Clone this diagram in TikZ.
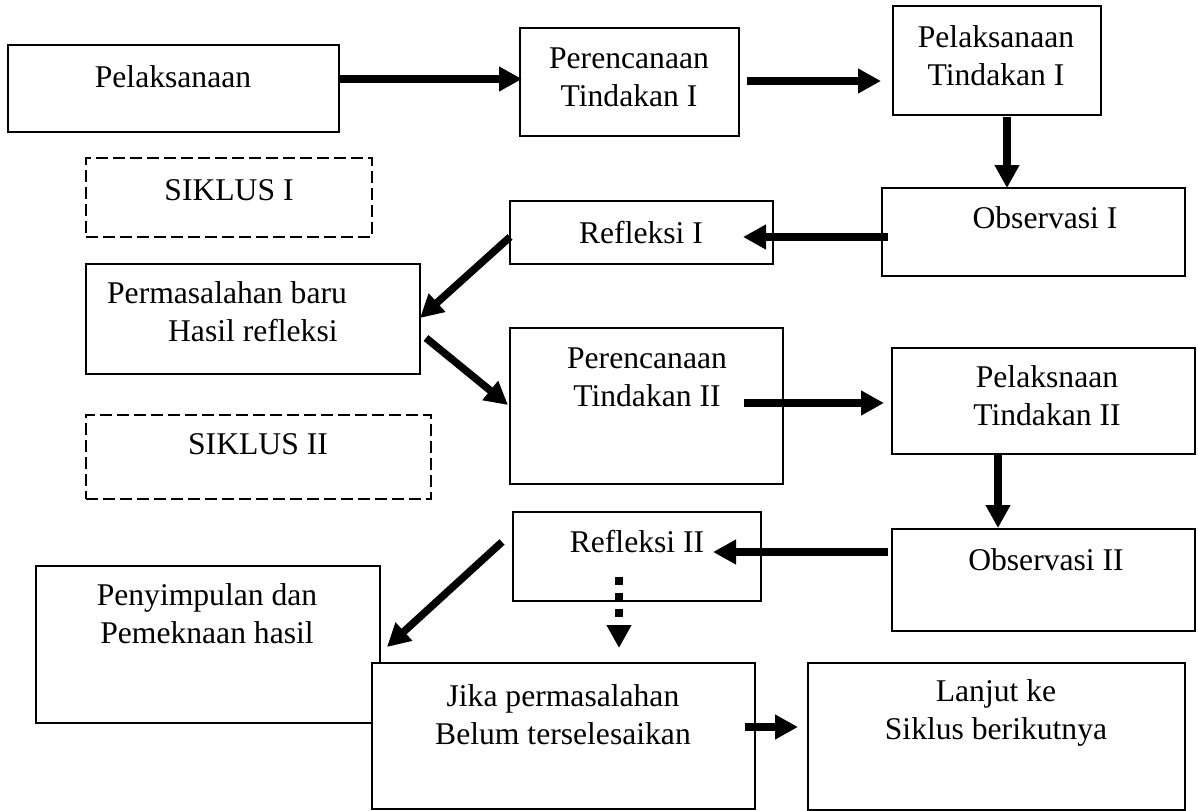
\documentclass[tikz,border=0pt]{standalone}
\usepackage{fontspec}
\setmainfont{Liberation Serif}
\usetikzlibrary{arrows.meta,fit}

\tikzset{
  box/.style={draw, line width=0.04cm, inner sep=0pt},
  dbox/.style={box, dash pattern=on 0.24cm off 0.1cm},
  txt/.style={inner sep=0pt, align=center, font=\fontsize{18}{21.5}\selectfont},
  arr/.style={line width=0.15cm, -{Triangle[length=0.46cm,width=0.47cm]}},
  darr/.style={arr, dash pattern=on 0.16cm off 0.16cm},
}

\begin{document}
\begin{tikzpicture}[x=0.02cm, y=-0.02cm]
\useasboundingbox (0,0) rectangle (1198,811);

%------------------ SIKLUS I ------------------%
\node[box, fit={(8,45) (339,132)}] (pelBox) {};
\node[txt] (pel) at (173,77) {Pelaksanaan};

\node[box, fit={(520,28) (739,136)}] (renIBox) {};
\node[txt] (renI) at (629,77) {Perencanaan\\Tindakan I};

\node[box, fit={(893,6) (1101,115)}] (lakIBox) {};
\node[txt] (lakI) at (996,56) {Pelaksanaan\\Tindakan I};

\node[box, fit={(882,188) (1185,276)}] (obsIBox) {};
\node[txt] (obsI) at (1045,218) {Observasi I};

\node[box, fit={(510,201) (773,264)}] (refIBox) {};
\node[txt] (refI) at (641,233) {Refleksi I};

\node[dbox, fit={(86,158) (372,237)}] (sikIBox) {};
\node[txt] (sikI) at (229,190) {SIKLUS I};

\node[box, fit={(86,264) (420,374)}] (masBox) {};
\node[txt, align=left] (mas) at (227,312) {Permasalahan baru\\\hspace*{1.22cm}Hasil refleksi};

%------------------ SIKLUS II ------------------%
\node[box, fit={(510,328) (783,484)}] (renIIBox) {};
\node[txt] (renII) at (647,377) {Perencanaan\\Tindakan II};

\node[box, fit={(892,348) (1195,454)}] (lakIIBox) {};
\node[txt] (lakII) at (1047,396) {Pelaksnaan\\Tindakan II};

\node[dbox, fit={(86,415) (431,499)}] (sikIIBox) {};
\node[txt] (sikII) at (258,444) {SIKLUS II};

\node[box, fit={(892,529) (1195,631)}] (obsIIBox) {};
\node[txt] (obsII) at (1046,560) {Observasi II};

\node[box, fit={(513,512) (761,601)}] (refIIBox) {};
\node[txt] (refII) at (637,542) {Refleksi II};

\node[box, fit={(36,566) (380,723)}] (simBox) {};
\node[txt] (sim) at (207,614) {Penyimpulan dan\\Pemeknaan hasil};

\node[box, fill=white, fit={(372,663) (755,809)}] (jikaBox) {};
\node[txt] (jika) at (563,715) {Jika permasalahan\\Belum terselesaikan};

\node[box, fit={(808,663) (1185,810)}] (lanBox) {};
\node[txt] (lan) at (996,713) {Lanjut ke\\Siklus berikutnya};

%------------------ ARROWS ------------------%
\coordinate (a1) at (339,79);   \coordinate (b1) at (522,79);
\coordinate (a2) at (747,81);   \coordinate (b2) at (881,81);
\coordinate (a3) at (1007,117); \coordinate (b3) at (1007,188);
\coordinate (a4) at (888,237);  \coordinate (b4) at (743,237);
\coordinate (a5) at (510,237);  \coordinate (b5) at (420,318);
\coordinate (a6) at (426,338);  \coordinate (b6) at (508,405);
\coordinate (a7) at (744,403);  \coordinate (b7) at (884,403);
\coordinate (a8) at (998,454);  \coordinate (b8) at (998,528);
\coordinate (a9) at (888,552);  \coordinate (b9) at (713,552);
\coordinate (a10) at (502,542); \coordinate (b10) at (387,647);
\coordinate (a11) at (619,577); \coordinate (b11) at (619,648);
\coordinate (a12) at (745,727); \coordinate (b12) at (798,727);

\draw[arr] (a1) -- (b1);
\draw[arr] (a2) -- (b2);
\draw[arr] (a3) -- (b3);
\draw[arr] (a4) -- (b4);
\draw[arr] (a5) -- (b5);
\draw[arr] (a6) -- (b6);
\draw[arr] (a7) -- (b7);
\draw[arr] (a8) -- (b8);
\draw[arr] (a9) -- (b9);
\draw[arr] (a10) -- (b10);
\draw[darr] (a11) -- (b11);
\draw[arr] (a12) -- (b12);

\end{tikzpicture}
\end{document}
